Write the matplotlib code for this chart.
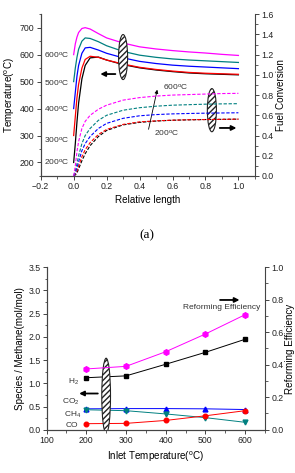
import matplotlib
matplotlib.use("Agg")
from matplotlib import pyplot as plt
from matplotlib.patches import Ellipse
from matplotlib.ticker import MultipleLocator

plt.rcParams['font.family'] = ['Liberation Sans', 'DejaVu Sans']
plt.rcParams['mathtext.fontset'] = 'custom'
plt.rcParams['mathtext.rm'] = 'Liberation Sans'
plt.rcParams['mathtext.it'] = 'Liberation Sans'

# ---- (a) temperature / conversion along reactor ----
rel_len = [0, 0.01, 0.02, 0.03, 0.05, 0.07, 0.1, 0.15, 0.2, 0.3, 0.4, 0.5, 0.6, 0.7, 0.8, 0.9, 1.0]
inlet_labels = ['200', '300', '400', '500', '600']
line_colors = ['black', '#ff0000', '#0000ff', '#008080', '#ff00ff']

temp_200 = [200, 270, 350, 420, 510, 560, 588, 591, 580, 563, 551, 543, 537, 532, 529, 527, 525]
temp_300 = [300, 370, 440, 490, 550, 582, 594, 590, 580, 565, 553, 545, 539, 534, 531, 529, 527]
temp_400 = [400, 460, 520, 560, 605, 625, 627, 617, 605, 588, 575, 567, 561, 557, 554, 551, 548]
temp_500 = [500, 550, 590, 620, 650, 662, 660, 648, 633, 612, 598, 590, 584, 580, 577, 574, 571]
temp_600 = [600, 640, 665, 682, 697, 700, 695, 678, 662, 643, 629, 621, 615, 610, 606, 601, 597]

conv_200 = [0, 0.01, 0.03, 0.07, 0.15, 0.22, 0.30, 0.39, 0.45, 0.505, 0.53, 0.543, 0.551, 0.555, 0.558, 0.56, 0.562]
conv_300 = [0, 0.02, 0.05, 0.10, 0.19, 0.26, 0.33, 0.41, 0.46, 0.51, 0.535, 0.545, 0.552, 0.556, 0.558, 0.56, 0.562]
conv_400 = [0, 0.03, 0.08, 0.14, 0.25, 0.32, 0.39, 0.47, 0.52, 0.57, 0.595, 0.607, 0.614, 0.618, 0.621, 0.623, 0.625]
conv_500 = [0, 0.05, 0.12, 0.20, 0.32, 0.40, 0.47, 0.55, 0.60, 0.65, 0.675, 0.69, 0.70, 0.705, 0.71, 0.713, 0.715]
conv_600 = [0, 0.10, 0.24, 0.34, 0.47, 0.54, 0.60, 0.66, 0.70, 0.75, 0.775, 0.79, 0.80, 0.805, 0.81, 0.815, 0.817]

# ---- (b) species vs inlet temperature ----
inlet_temp = [200, 300, 400, 500, 600]
h2 = [1.12, 1.16, 1.41, 1.667, 1.948]
co2 = [0.45, 0.455, 0.455, 0.45, 0.435]
ch4 = [0.43, 0.41, 0.34, 0.26, 0.16]
co = [0.13, 0.137, 0.20, 0.30, 0.41]
reform_eff = [0.374, 0.390, 0.480, 0.589, 0.708]

spine_c = '#444444'
lab_fs = 7.1
tick_fs = 6.3
note_fs = 6


def style_axis(ax):
    for s in ax.spines.values():
        s.set_color(spine_c)
        s.set_linewidth(0.8)
    ax.tick_params(direction='out', length=3, width=0.7, labelsize=tick_fs, colors=spine_c, labelcolor='#222222', pad=1.5)
    ax.tick_params(which='minor', direction='out', length=1.8, width=0.6, colors=spine_c)


fig = plt.figure(figsize=(2.95, 4.73), dpi=100)

# ---------------- top panel ----------------
ax1 = fig.add_axes([0.138, 0.628, 0.726, 0.342])
ax1r = ax1.twinx()
temps = [temp_200, temp_300, temp_400, temp_500, temp_600]
convs = [conv_200, conv_300, conv_400, conv_500, conv_600]
for t, c in zip(temps, line_colors):
    ax1.plot(rel_len, t, color=c, lw=0.9)
for cv, c in zip(convs, line_colors):
    ax1r.plot(rel_len, cv, color=c, lw=0.8, ls=(0, (3, 1.5)))

ax1.set_xlim(-0.2, 1.1)
ax1.set_ylim(150, 750)
ax1r.set_ylim(0, 1.6)
ax1.set_xticks([-0.2, 0.0, 0.2, 0.4, 0.6, 0.8, 1.0])
ax1.set_yticks([200, 300, 400, 500, 600, 700])
ax1.xaxis.set_minor_locator(MultipleLocator(0.1))
ax1.yaxis.set_minor_locator(MultipleLocator(50))
ax1r.set_yticks([0.0, 0.2, 0.4, 0.6, 0.8, 1.0, 1.2, 1.4, 1.6])
ax1r.yaxis.set_minor_locator(MultipleLocator(0.1))
for a in (ax1, ax1r):
    style_axis(a)
    a.spines['top'].set_visible(False)
ax1.spines['right'].set_visible(False)
ax1.set_xlabel('Relative length', fontsize=lab_fs, labelpad=3)
ax1.set_ylabel('Temperature($^{\\mathrm{o}}$C)', fontsize=lab_fs, labelpad=2)
ax1r.set_ylabel('Fuel Conversion', fontsize=lab_fs, labelpad=2)

for lab, yy in zip(inlet_labels, [200, 285, 400, 495, 600]):
    ax1.text(-0.025, yy, lab + '$^{\\mathrm{o}}$C', fontsize=note_fs, ha='right', va='center', color='#333333')

ax1.add_patch(Ellipse((0.30, 591), 0.055, 167, facecolor='white', edgecolor='#222222', hatch='//////', lw=0.8, zorder=5))
ax1.annotate('', xy=(0.145, 528), xytext=(0.27, 528),
             arrowprops=dict(arrowstyle='-|>', color='black', lw=1.3, mutation_scale=7), zorder=6)
ax1.add_patch(Ellipse((0.839, 394), 0.055, 160, facecolor='white', edgecolor='#222222', hatch='//////', lw=0.8, zorder=5))
ax1.annotate('', xy=(1.005, 328), xytext=(0.87, 328),
             arrowprops=dict(arrowstyle='-|>', color='black', lw=1.3, mutation_scale=7), zorder=6)
ax1.annotate('', xy=(0.511, 480), xytext=(0.451, 313),
             arrowprops=dict(arrowstyle='-|>', color='black', lw=0.6, mutation_scale=5))
ax1.text(0.542, 480, '600$^{\\mathrm{o}}$C', fontsize=note_fs, ha='left', va='center', color='#333333')
ax1.text(0.487, 310, '200$^{\\mathrm{o}}$C', fontsize=note_fs, ha='left', va='center', color='#333333')

fig.text(0.498, 0.503, '(a)', fontsize=9.5, family='Liberation Serif', ha='center', va='center')

# ---------------- bottom panel ----------------
ax2 = fig.add_axes([0.158, 0.0915, 0.740, 0.3435])
ax2r = ax2.twinx()
ax2.plot(inlet_temp, h2, color='black', marker='s', ms=3.3, lw=0.7)
ax2.plot(inlet_temp, co2, color='#0000ff', marker='^', ms=3.5, lw=0.7)
ax2.plot(inlet_temp, ch4, color='#008080', marker='v', ms=3.5, lw=0.7)
ax2.plot(inlet_temp, co, color='#ff0000', marker='o', ms=3.3, lw=0.7)
ax2r.plot(inlet_temp, reform_eff, color='#ff00ff', marker='h', ms=4, lw=0.7)

ax2.set_xlim(100, 650)
ax2.set_ylim(0, 3.5)
ax2r.set_ylim(0, 1.0)
ax2.set_xticks([100, 200, 300, 400, 500, 600])
ax2.xaxis.set_minor_locator(MultipleLocator(50))
ax2.set_yticks([0.0, 0.5, 1.0, 1.5, 2.0, 2.5, 3.0, 3.5])
ax2.yaxis.set_minor_locator(MultipleLocator(0.25))
ax2r.set_yticks([0.0, 0.2, 0.4, 0.6, 0.8, 1.0])
ax2r.yaxis.set_minor_locator(MultipleLocator(0.1))
for a in (ax2, ax2r):
    style_axis(a)
    a.spines['top'].set_visible(False)
ax2.spines['right'].set_visible(False)
ax2.set_xlabel('Inlet Temperature($^{\\mathrm{o}}$C)', fontsize=lab_fs, labelpad=3)
ax2.set_ylabel('Species / Methane(mol/mol)', fontsize=lab_fs, labelpad=2)
ax2r.set_ylabel('Reforming Efficiency', fontsize=lab_fs, labelpad=1)

ax2.text(182, 1.03, 'H$_2$', fontsize=note_fs, ha='right', va='center', color='#333333')
ax2.text(183, 0.59, 'CO$_2$', fontsize=note_fs, ha='right', va='center', color='#333333')
ax2.text(188, 0.31, 'CH$_4$', fontsize=note_fs, ha='right', va='center', color='#333333')
ax2.text(180, 0.10, 'CO', fontsize=note_fs, ha='right', va='center', color='#333333')

ax2.add_patch(Ellipse((250, 0.73), 22, 1.62, facecolor='white', edgecolor='#222222', hatch='//////', lw=0.8, zorder=5))
ax2.annotate('', xy=(175, 0.78), xytext=(236, 0.78),
             arrowprops=dict(arrowstyle='-|>', color='black', lw=1.3, mutation_scale=7), zorder=6)
ax2.annotate('', xy=(593, 2.795), xytext=(530, 2.795),
             arrowprops=dict(arrowstyle='-|>', color='black', lw=1.3, mutation_scale=7))
ax2.text(541, 2.63, 'Reforming Efficiency', fontsize=note_fs, ha='center', va='center', color='#333333')

fig.savefig('out.png', dpi=100)
